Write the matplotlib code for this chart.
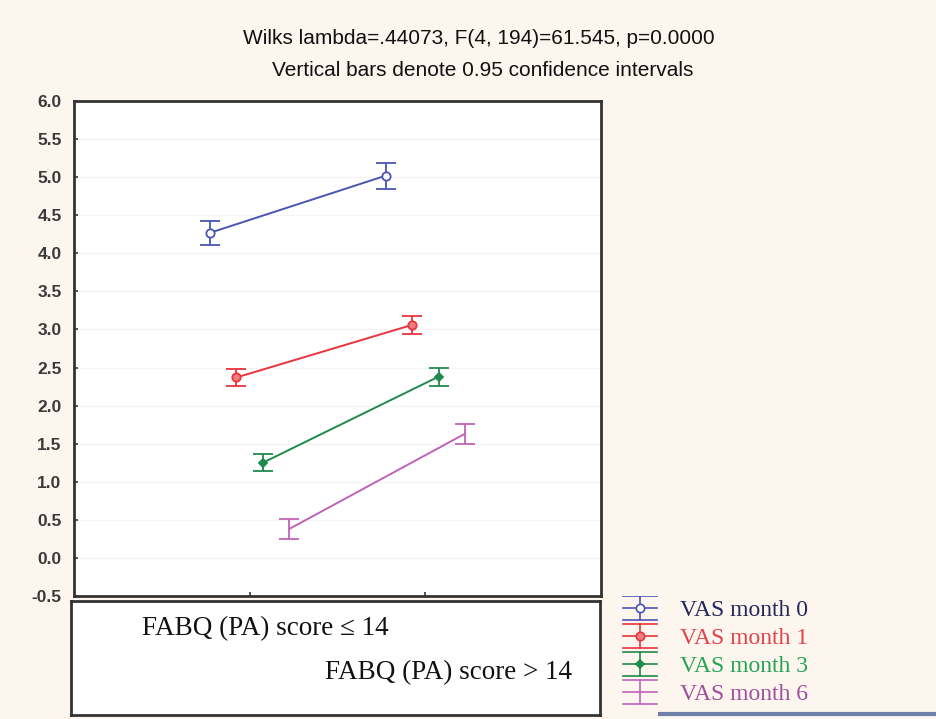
import numpy as np
import matplotlib.pyplot as plt
from matplotlib.lines import Line2D

# group labels on the x axis
groups = ['FABQ (PA) score \u2264 14', 'FABQ (PA) score > 14']
series = ['VAS month 0', 'VAS month 1', 'VAS month 3', 'VAS month 6']

# means and half-widths of the 0.95 CI
vas0 = [4.27, 5.02]
vas0_ci = [0.16, 0.17]
vas1 = [2.37, 3.06]
vas1_ci = [0.11, 0.12]
vas3 = [1.25, 2.38]
vas3_ci = [0.11, 0.12]
vas6 = [0.38, 1.63]
vas6_ci = [0.13, 0.13]

yticks = np.arange(-0.5, 6.01, 0.5)

bg = '#fdf6ef'
colors = ['#4a55b0', '#e8343c', '#1e8a4e', '#c063b8']
text_colors = ['#23285a', '#e04448', '#26a457', '#a0509c']
markers = ['o', 'o', 'D', 'none']
mfaces = ['white', '#f08080', '#1e8a4e', 'none']
msizes = [6, 6, 4, 0]
offsets = [-0.225, -0.075, 0.075, 0.225]

means = [vas0, vas1, vas3, vas6]
cis = [vas0_ci, vas1_ci, vas3_ci, vas6_ci]

fig = plt.figure(figsize=(9.36, 7.19), dpi=100, facecolor=bg)
ax = fig.add_axes([74/936, 1 - 596/719, 527/936, 495/719])
ax.set_facecolor('white')

x = np.arange(1, len(groups) + 1)
for m, c, col, mk, mf, ms, off in zip(means, cis, colors, markers, mfaces, msizes, offsets):
    ax.errorbar(x + off, m, yerr=c, color=col, lw=1.4, elinewidth=1.3,
                capsize=7, capthick=1.3, marker=mk, mfc=mf, mec=col, ms=ms, mew=1.3)

ax.set_xlim(0, 3)
ax.set_ylim(-0.5, 6.0)
ax.set_yticks(yticks)
ax.set_yticklabels(['%.1f' % v for v in yticks], fontsize=12.5, color='#3a3a3a',
                   fontweight='bold', family='Liberation Sans')
ax.set_xticks(x)
ax.set_xticklabels([])
ax.tick_params(direction='in', length=3, width=1.2, color='#333333', pad=9)
ax.grid(axis='y', color='#f3f3f3', lw=0.8)
ax.set_axisbelow(True)
for s in ax.spines.values():
    s.set_linewidth(2)
    s.set_color('#333333')

# box under the plot holding the group names
lab = fig.add_axes([71/936, 1 - 715/719, 529/936, 114/719])
lab.set_facecolor('white')
lab.set_xticks([])
lab.set_yticks([])
for s in lab.spines.values():
    s.set_linewidth(2)
    s.set_color('#333333')
lab.set_xlim(ax.get_xlim())
lab.set_ylim(0, 1)
lab.text(x[0] + 0.10, 0.76, groups[0], ha='center', va='center',
         fontsize=19.5, family='Liberation Serif', color='#111111')
lab.text(x[1] + 0.14, 0.37, groups[1], ha='center', va='center',
         fontsize=19.5, family='Liberation Serif', color='#111111')

# title lines
fig.text(0.512, 1 - 38/719, 'Wilks lambda=.44073, F(4, 194)=61.545, p=0.0000',
         ha='center', va='center', fontsize=15,
         family='Liberation Sans', color='#111111')
fig.text(0.516, 1 - 70/719, 'Vertical bars denote 0.95 confidence intervals',
         ha='center', va='center', fontsize=15,
         family='Liberation Sans', color='#111111')

# legend drawn by hand in its own axes
lg = fig.add_axes([615/936, 1 - 708/719, 320/936, 112/719])
lg.set_xlim(0, 320)
lg.set_ylim(0, 112)
lg.axis('off')
rows = [100, 72, 44, 16]
for yy, name, col, tcol, mk, mf, ms in zip(rows, series, colors, text_colors, markers, mfaces, msizes):
    h = 12
    lg.add_line(Line2D([25, 25], [yy - h, yy + h], color=col, lw=1.2))
    for dy in (-h, 0, h):
        lg.add_line(Line2D([8, 42], [yy + dy, yy + dy], color=col, lw=1.2))
    if mk != 'none':
        lg.plot([25], [yy], marker=mk, mfc=mf, mec=col, ms=ms, mew=1.2)
    lg.text(65, yy - 3, name, ha='left', va='center', fontsize=17,
            family='Liberation Serif', color=tcol)

fig.add_artist(Line2D([660/936, 1.0], [1 - 714/719, 1 - 714/719],
                      color='#7080a8', lw=3, transform=fig.transFigure))

fig.savefig('out.png', dpi=100, facecolor=bg)
